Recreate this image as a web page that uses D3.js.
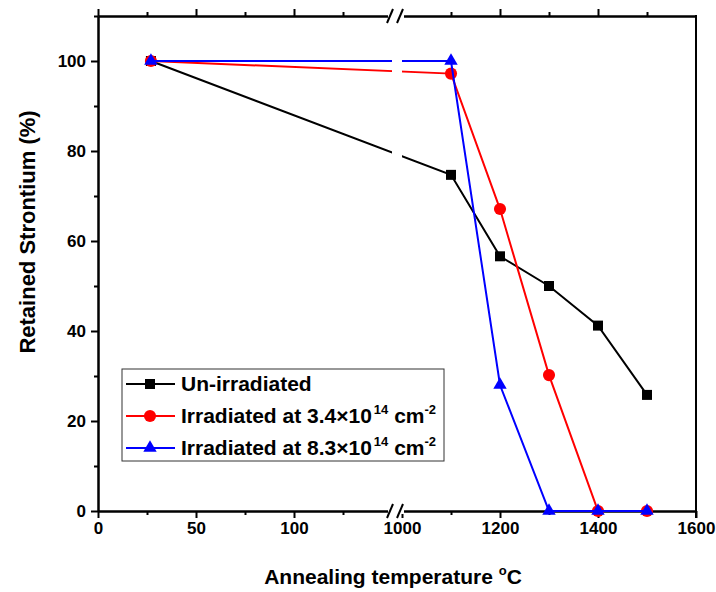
<!DOCTYPE html>
<html>
<head>
<meta charset="utf-8">
<script src="https://cdn.jsdelivr.net/npm/d3@7"></script>
<style>
  body { margin: 0; background: #fff; }
  text { font-family: "Liberation Sans", Arial, sans-serif; font-weight: bold; }
</style>
</head>
<body>
<div id="chart"></div>
<script>
// temperatures (27 = room temperature, before the axis break)
var temps = [27, 1100, 1200, 1300, 1400, 1500];
var unIrr = [100, 74.7, 56.6, 50.0, 41.2, 25.8];
var irr34 = [100, 97.2, 67.1, 30.2, 0, 0];
var irr83 = [100, 100, 28.0, 0, 0, 0];
var leftTicks = [0, 50, 100];
var leftMinor = [25, 75, 125];
var rightTicks = [1000, 1200, 1400, 1600];
var rightMinor = [1100, 1300, 1500];
var yTicks = [0, 20, 40, 60, 80, 100];
var yMinor = [10, 30, 50, 70, 90, 110];

var W = 716, H = 592;
var mLeft = 98, mRight = 696, mTop = 16, mBottom = 511;
var brk1 = 392, brk2 = 402;

var svg = d3.select("#chart").append("svg")
  .attr("width", W).attr("height", H);

var xL = d3.scaleLinear().domain([0, 150]).range([mLeft, brk1]);
var xR = d3.scaleLinear().domain([1000, 1600]).range([brk2, mRight]);
function x(v) { return v <= 150 ? xL(v) : xR(v); }
var y = d3.scaleLinear().domain([0, 110]).range([mBottom, mTop]);

// clip so lines crossing the break get a gap
var defs = svg.append("defs");
var cp = defs.append("clipPath").attr("id", "brk");
cp.append("rect").attr("x", 0).attr("y", 0).attr("width", brk1).attr("height", H);
cp.append("rect").attr("x", brk2).attr("y", 0).attr("width", W - brk2).attr("height", H);

var fmt = d3.format("d");

function styleAxis(g) {
  g.attr("font-size", 17).attr("font-family", "Liberation Sans, Arial, sans-serif");
  g.selectAll("path,line").attr("stroke", "#000").attr("stroke-width", 2);
  g.selectAll("text").attr("fill", "#000").style("font-weight", "bold");
}

// bottom axis
svg.append("g").attr("transform", "translate(0," + mBottom + ")")
  .call(d3.axisBottom(xL).tickValues(leftTicks).tickSize(7).tickSizeOuter(0).tickPadding(4).tickFormat(fmt))
  .call(styleAxis);
svg.append("g").attr("transform", "translate(0," + mBottom + ")")
  .call(d3.axisBottom(xL).tickValues(leftMinor).tickSize(4).tickSizeOuter(0).tickFormat(""))
  .call(styleAxis);
svg.append("g").attr("transform", "translate(0," + mBottom + ")")
  .call(d3.axisBottom(xR).tickValues(rightTicks).tickSize(7).tickSizeOuter(0).tickPadding(4).tickFormat(fmt))
  .call(styleAxis);
svg.append("g").attr("transform", "translate(0," + mBottom + ")")
  .call(d3.axisBottom(xR).tickValues(rightMinor).tickSize(4).tickSizeOuter(0).tickFormat(""))
  .call(styleAxis);

// top axis (no labels)
svg.append("g").attr("transform", "translate(0," + mTop + ")")
  .call(d3.axisTop(xL).tickValues(leftTicks).tickSize(7).tickSizeOuter(0).tickFormat(""))
  .call(styleAxis);
svg.append("g").attr("transform", "translate(0," + mTop + ")")
  .call(d3.axisTop(xL).tickValues(leftMinor).tickSize(4).tickSizeOuter(0).tickFormat(""))
  .call(styleAxis);
svg.append("g").attr("transform", "translate(0," + mTop + ")")
  .call(d3.axisTop(xR).tickValues(rightTicks.slice(1, 3)).tickSize(7).tickSizeOuter(0).tickFormat(""))
  .call(styleAxis);
svg.append("g").attr("transform", "translate(0," + mTop + ")")
  .call(d3.axisTop(xR).tickValues(rightMinor).tickSize(4).tickSizeOuter(0).tickFormat(""))
  .call(styleAxis);

// left axis
svg.append("g").attr("transform", "translate(" + mLeft + ",0)")
  .call(d3.axisLeft(y).tickValues(yTicks).tickSize(7).tickSizeOuter(0).tickPadding(5).tickFormat(fmt))
  .call(styleAxis);
svg.append("g").attr("transform", "translate(" + mLeft + ",0)")
  .call(d3.axisLeft(y).tickValues(yMinor).tickSize(4).tickSizeOuter(0).tickFormat(""))
  .call(styleAxis);

// right axis line
svg.append("line").attr("x1", mRight).attr("x2", mRight).attr("y1", mTop - 1).attr("y2", mBottom + 7)
  .attr("stroke", "#000").attr("stroke-width", 2);

// break marks
[mTop, mBottom].forEach(function(yy) {
  svg.append("rect").attr("x", brk1 - 4).attr("y", yy - 3).attr("width", brk2 - brk1 + 6).attr("height", 6)
    .attr("fill", "#fff");
  [brk1 - 1, brk2 - 1].forEach(function(xx) {
    svg.append("line")
      .attr("x1", xx - 4).attr("y1", yy + 7)
      .attr("x2", xx + 2).attr("y2", yy - 7)
      .attr("stroke", "#000").attr("stroke-width", 2);
  });
});

var series = [
  { name: "Un-irradiated", vals: unIrr, color: "#000", sym: d3.symbolSquare, size: 100 },
  { name: "Irradiated at 3.4", vals: irr34, color: "#ff0000", sym: d3.symbolCircle, size: 115 },
  { name: "Irradiated at 8.3", vals: irr83, color: "#0000ff", sym: d3.symbolTriangle, size: 78 }
];

var line = d3.line()
  .x(function(d) { return x(d[0]); })
  .y(function(d) { return y(d[1]); });

series.forEach(function(s) {
  var pts = temps.map(function(t, i) { return [t, s.vals[i]]; });
  svg.append("path").datum(pts)
    .attr("d", line)
    .attr("fill", "none")
    .attr("stroke", s.color)
    .attr("stroke-width", 2)
    .attr("clip-path", "url(#brk)");
  svg.selectAll(null).data(pts).enter().append("path")
    .attr("d", d3.symbol().type(s.sym).size(s.size))
    .attr("transform", function(d) { return "translate(" + x(d[0]) + "," + y(d[1]) + ")"; })
    .attr("fill", s.color);
});

// legend
var lg = svg.append("g");
lg.append("rect").attr("x", 122).attr("y", 369).attr("width", 322).attr("height", 92)
  .attr("fill", "#fff").attr("stroke", "#333").attr("stroke-width", 1);
var rowY = [384, 416, 448];
var sups = [null, "14", "14"];
series.forEach(function(s, i) {
  var yy = rowY[i];
  lg.append("line").attr("x1", 126).attr("x2", 175).attr("y1", yy).attr("y2", yy)
    .attr("stroke", s.color).attr("stroke-width", 2);
  lg.append("path").attr("d", d3.symbol().type(s.sym).size(s.size))
    .attr("transform", "translate(150," + yy + ")").attr("fill", s.color);
  var t = lg.append("text").attr("x", 181).attr("y", yy + 7).attr("font-size", 21);
  if (i === 0) {
    t.text(s.name);
  } else {
    t.append("tspan").text(s.name + "\u00d710");
    t.append("tspan").attr("font-size", 13).attr("dx", 2).attr("dy", -9).text(sups[i]);
    t.append("tspan").attr("dy", 9).text(" cm");
    t.append("tspan").attr("font-size", 13).attr("dy", -9).text("-2");
  }
});

// axis titles
var xt = svg.append("text").attr("x", (mLeft + mRight) / 2 - 4).attr("y", 584)
  .attr("text-anchor", "middle").attr("font-size", 21);
xt.append("tspan").text("Annealing temperature ");
xt.append("tspan").attr("font-size", 13).attr("dy", -9).text("o");
xt.append("tspan").attr("dy", 9).text("C");

svg.append("text")
  .attr("transform", "translate(35,232) rotate(-90)")
  .attr("text-anchor", "middle").attr("font-size", 22)
  .text("Retained Strontium  (%)");
</script>
</body>
</html>
